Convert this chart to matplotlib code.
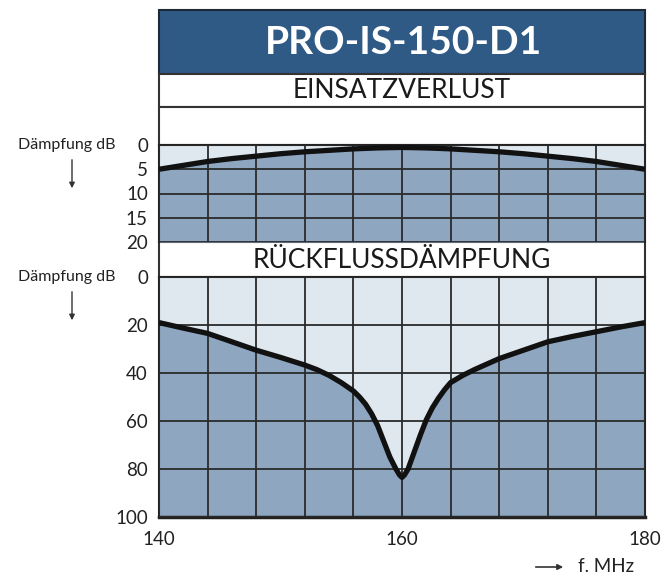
import matplotlib.pyplot as plt
import numpy as np
from matplotlib.patches import Rectangle

# Einsatzverlust (insertion loss), dB
f_il = [140, 142, 144, 146, 148, 150, 152, 154, 156, 158, 160,
        162, 164, 166, 168, 170, 172, 174, 176, 178, 180]
il_db = [5.0, 4.2, 3.4, 2.8, 2.3, 1.8, 1.4, 1.1, 0.8, 0.6, 0.5,
         0.6, 0.8, 1.1, 1.4, 1.8, 2.3, 2.8, 3.4, 4.2, 5.0]

# Rueckflussdaempfung (return loss), dB
f_rl = [140, 142, 144, 146, 148, 150, 152, 153, 154, 155, 156, 156.5, 157, 157.5, 158, 158.5,
        159, 159.5, 159.8, 160, 160.2, 160.5, 161, 161.5, 162, 162.5, 163, 163.5, 164, 165,
        166, 168, 170, 172, 174, 176, 178, 180]
rl_db = [19, 21.3, 23.5, 27, 30.5, 33.5, 36.7, 38.6, 41, 44, 47.5, 50, 53, 57, 62, 68.5,
         75, 80, 82.5, 83.5, 82.5, 80, 73, 66, 59.5, 54.5, 50.5, 47, 44, 41,
         38.5, 34, 30.5, 27, 24.8, 22.8, 20.8, 19]

title = "PRO-IS-150-D1"
sub1 = "EINSATZVERLUST"
sub2 = "RÜCKFLUSSDÄMPFUNG"
ylab = "Dämpfung dB"

W, H = 671, 574
dark_blue = "#2f5a85"
fill_dark = "#8fa6c1"
fill_light = "#dfe7ef"
gridc = "#2a2a2a"

plt.rcParams['font.family'] = ["Lato", "DejaVu Sans"]

fig = plt.figure(figsize=(W / 100, H / 100), dpi=100)

# background in pixel coordinates
bg = fig.add_axes([0, 0, 1, 1], zorder=0)
bg.set_xlim(0, W)
bg.set_ylim(H, 0)
bg.axis("off")

L, R = 159, 645
bg.add_patch(Rectangle((L, 10), R - L, 64, facecolor=dark_blue, edgecolor="#1c2a38", lw=1.5))
bg.add_patch(Rectangle((L, 74), R - L, 33, facecolor="white", edgecolor="#333333", lw=1.5))
bg.add_patch(Rectangle((L, 107), R - L, 38, facecolor="white", edgecolor="#333333", lw=1.5))
bg.add_patch(Rectangle((L, 242), R - L, 35, facecolor="white", edgecolor="#333333", lw=1.5))
bg.text((L + R) / 2 + 1, 43, title, color="white", fontsize=28, fontweight="bold",
        ha="center", va="center")
bg.text((L + R) / 2, 91, sub1, color="#1a1a1a", fontsize=19, ha="center", va="center")
bg.text((L + R) / 2, 260, sub2, color="#1a1a1a", fontsize=19, ha="center", va="center")

for y0 in (145, 277):
    bg.text(18, y0, ylab, fontsize=11.5, ha="left", va="center", color="#222222")
    bg.annotate("", xy=(72, y0 + 46), xytext=(72, y0 + 12),
                arrowprops=dict(arrowstyle="-|>", color="#333333", lw=1, mutation_scale=8))

bg.annotate("", xy=(566, 567), xytext=(533, 567),
            arrowprops=dict(arrowstyle="-|>", color="#333333", lw=1.2, mutation_scale=8))
bg.text(578, 567, "f. MHz", fontsize=13.5, ha="left", va="center", color="#222222", clip_on=False)


def setup(ax, ymax, ystep):
    ax.set_facecolor(fill_light)
    ax.set_xlim(140, 180)
    ax.set_ylim(ymax, 0)
    ax.set_xticks(np.arange(140, 181, 4), minor=True)
    ax.set_yticks(np.arange(0, ymax + 1, ystep))
    ax.grid(True, which="both", color=gridc, lw=1.3)
    ax.set_axisbelow(False)
    ax.tick_params(which="both", length=0, labelsize=13.5, pad=8, colors="#222222")
    for s in ax.spines.values():
        s.set_color("#222222")
        s.set_linewidth(1.5)


# upper plot
ax1 = fig.add_axes([L / W, 1 - 242 / H, (R - L) / W, 97 / H], zorder=2)
setup(ax1, 20, 5)
ax1.fill_between(f_il, il_db, 20, color=fill_dark, lw=0)
ax1.plot(f_il, il_db, color="#111111", lw=3.8, zorder=5, solid_capstyle="butt")
ax1.set_xticks([])
ax1.set_xticks(np.arange(140, 181, 4), minor=True)
ax1.spines["bottom"].set_visible(False)

# lower plot
ax2 = fig.add_axes([L / W, 1 - 517 / H, (R - L) / W, 240 / H], zorder=2)
setup(ax2, 100, 20)
ax2.fill_between(f_rl, rl_db, 100, color=fill_dark, lw=0)
ax2.plot(f_rl, rl_db, color="#111111", lw=3.8, zorder=5, solid_capstyle="butt",
         solid_joinstyle="round")
ax2.set_xticks([140, 160, 180])
ax2.spines["bottom"].set_linewidth(2.5)
ax2.tick_params(axis="x", pad=10)

fig.savefig("out.png", dpi=100)
